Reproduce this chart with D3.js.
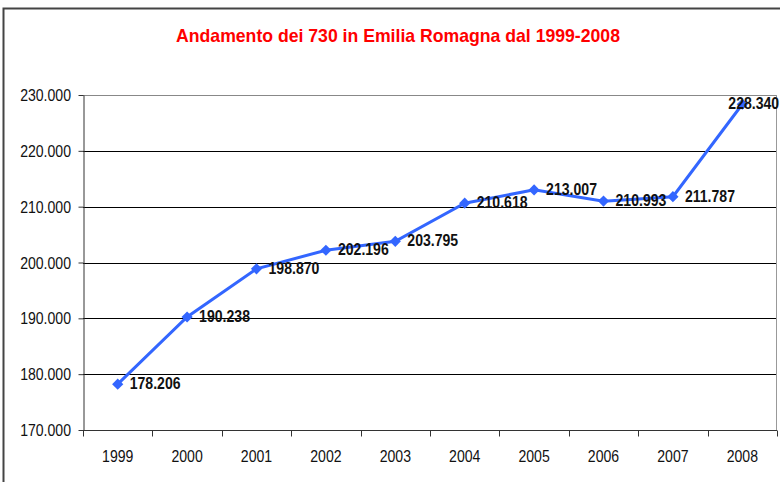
<!DOCTYPE html>
<html lang="it">
<head>
<meta charset="UTF-8">
<title>Andamento dei 730 in Emilia Romagna</title>
<style>
  body { margin: 0; background: #fff; }
  svg { display: block; font-family: "Liberation Sans", Arial, sans-serif; }
</style>
</head>
<body>
<div id="chart"></div>
<script src="https://d3js.org/d3.v7.min.js"></script>
<script>
// data
const years = ["1999", "2000", "2001", "2002", "2003", "2004", "2005", "2006", "2007", "2008"];
const values = [178206, 190238, 198870, 202196, 203795, 210618, 213007, 210993, 211787, 228340];
const yTicks = [170000, 180000, 190000, 200000, 210000, 220000, 230000];

const W = 780, H = 482;
const margin = { top: 95, right: 3, bottom: 52, left: 83 };
const width = W - margin.left - margin.right;
const height = H - margin.top - margin.bottom;
const narrow = 0.88; // the original uses a condensed face

const itFmt = d3.formatLocale({ decimal: ",", thousands: ".", grouping: [3], currency: ["€", ""] }).format(",d");

const svg = d3.select("#chart").append("svg")
    .attr("width", W).attr("height", H);

// outer frame of the chart object
svg.append("rect")
    .attr("x", 3.5).attr("y", 8.5)
    .attr("width", W + 20).attr("height", H + 20)
    .attr("fill", "none").attr("stroke", "#444").attr("stroke-width", 2);

svg.append("text")
    .attr("transform", "translate(398,42) scale(0.98,1)")
    .attr("text-anchor", "middle")
    .attr("fill", "#ff0000")
    .attr("font-weight", "bold")
    .attr("font-size", 18)
    .text("Andamento dei 730 in Emilia Romagna dal 1999-2008");

const g = svg.append("g").attr("transform", `translate(${margin.left},${margin.top})`);

const x = d3.scaleBand().domain(years).range([0, width]);
const y = d3.scaleLinear().domain([170000, 230000]).range([height, 0]);

// gridlines
g.append("g").selectAll("line")
    .data(yTicks.filter(d => d > 170000))
    .join("line")
    .attr("x1", 0).attr("x2", width)
    .attr("y1", d => Math.round(y(d)) + 0.5).attr("y2", d => Math.round(y(d)) + 0.5)
    .attr("stroke", d => d === 230000 ? "#888" : "#000");

// right border of plot area
g.append("line")
    .attr("x1", width - 0.5).attr("x2", width - 0.5)
    .attr("y1", 0).attr("y2", height)
    .attr("stroke", "#999");

// y axis
const yAxis = g.append("g")
    .attr("transform", "translate(0.5,0)")
    .call(d3.axisLeft(y).tickValues(yTicks).tickFormat("").tickSize(5).tickSizeOuter(0));
yAxis.select(".domain").attr("stroke", "#333");
yAxis.selectAll(".tick line").attr("stroke", "#333");
g.selectAll(".yl")
    .data(yTicks)
    .join("text")
    .attr("class", "yl")
    .attr("transform", d => `translate(-12,${y(d) + 6}) scale(${narrow},1)`)
    .attr("text-anchor", "end")
    .attr("font-size", 16)
    .attr("fill", "#111")
    .text(d => itFmt(d));

// x axis with ticks between categories
const xAxis = g.append("g").attr("transform", `translate(0,${height + 0.5})`);
xAxis.append("line")
    .attr("x1", 0).attr("x2", width)
    .attr("stroke", "#333");
xAxis.selectAll(".xt")
    .data(years.concat(["end"]))
    .join("line")
    .attr("class", "xt")
    .attr("x1", (d, i) => Math.round(i * x.step()) + 0.5)
    .attr("x2", (d, i) => Math.round(i * x.step()) + 0.5)
    .attr("y1", 0).attr("y2", 6)
    .attr("stroke", "#333");
xAxis.selectAll(".xl")
    .data(years)
    .join("text")
    .attr("class", "xl")
    .attr("transform", d => `translate(${x(d) + x.bandwidth() / 2},31) scale(${narrow},1)`)
    .attr("text-anchor", "middle")
    .attr("font-size", 16)
    .attr("fill", "#111")
    .text(d => d);

// series line
const line = d3.line()
    .x((d, i) => x(years[i]) + x.bandwidth() / 2)
    .y(d => y(d));

g.append("path")
    .datum(values)
    .attr("d", line)
    .attr("fill", "none")
    .attr("stroke", "#3366ff")
    .attr("stroke-width", 3);

g.selectAll(".mk")
    .data(values)
    .join("path")
    .attr("class", "mk")
    .attr("d", d3.symbol(d3.symbolDiamond2, 80))
    .attr("transform", (d, i) => `translate(${x(years[i]) + x.bandwidth() / 2},${y(d)})`)
    .attr("fill", "#3366ff");

// value labels (last one is pushed left by the chart edge)
g.selectAll(".lbl")
    .data(values)
    .join("text")
    .attr("class", "lbl")
    .attr("transform", (d, i) => {
        const lx = x(years[i]) + x.bandwidth() / 2 + (i === values.length - 1 ? -14 : 12);
        return `translate(${lx},${y(d) + 5}) scale(${narrow},1)`;
    })
    .attr("font-size", 16)
    .attr("font-weight", "bold")
    .attr("fill", "#111")
    .text(d => itFmt(d));
</script>
</body>
</html>
